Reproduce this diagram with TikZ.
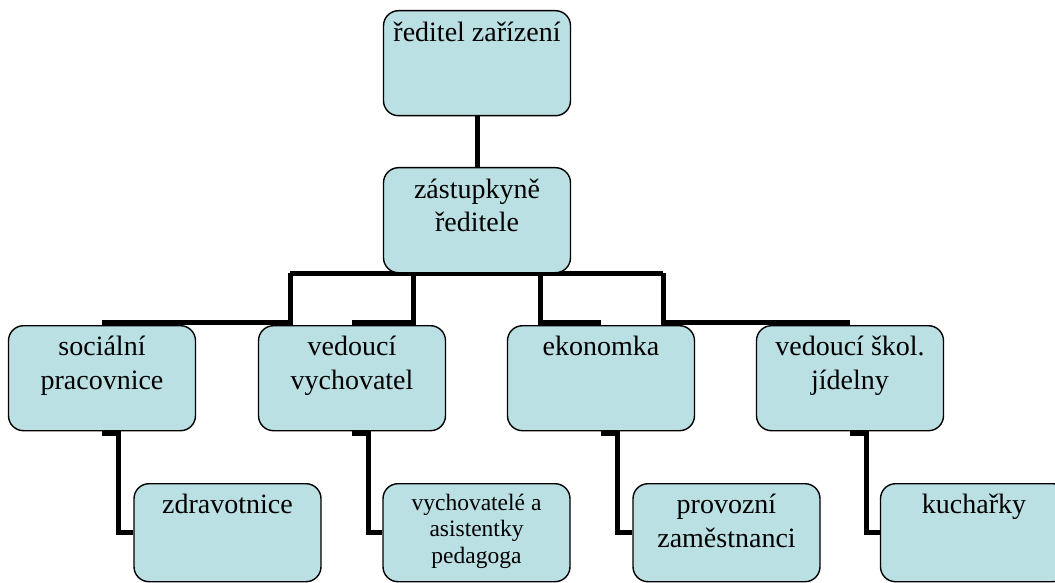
\documentclass[tikz,border=0pt]{standalone}
\usepackage{fontspec}
\setmainfont{Liberation Serif}
\usetikzlibrary{backgrounds}
\definecolor{boxfill}{RGB}{187,224,227}
\begin{document}
\begin{tikzpicture}[x=1pt,y=-1pt,
  orgbox/.style={draw=black, line width=1.4pt, fill=boxfill, rounded corners=15pt,
    minimum width=187pt, minimum height=105pt, inner sep=0pt, anchor=north},
  lowbox/.style={orgbox, minimum height=98pt},
  txt/.style={anchor=base, inner sep=0pt, font=\rmfamily\fontsize{28}{33.5}\selectfont},
  smalltxt/.style={anchor=base, inner sep=0pt, font=\rmfamily\fontsize{23.5}{26.5}\selectfont},
  conn/.style={line width=5pt, line join=miter, black}]
\useasboundingbox (0,0) rectangle (1055,583);
\clip (0,0) rectangle (1055,583);

% boxes
\node[orgbox] (dir) at (477,10) {};
\node[orgbox] (zast) at (477,167) {};
\node[orgbox] (soc) at (102,325) {};
\node[orgbox] (ved) at (352,325) {};
\node[orgbox] (eko) at (601,325) {};
\node[orgbox] (sko) at (850,325) {};
\node[lowbox] (zdr) at (227.5,483) {};
\node[lowbox] (vych) at (476.5,483) {};
\node[lowbox] (prov) at (726.5,483) {};
\node[lowbox] (kuch) at (974,483) {};

% texts
\node[txt] (tdir) at ([yshift=-31.5pt]dir.north) {\parbox[t]{185pt}{\centering ředitel zařízení}};
\node[txt] (tzast) at ([yshift=-31pt]zast.north) {\parbox[t]{185pt}{\centering zástupkyně\\ředitele}};
\node[txt] (tsoc) at ([yshift=-30.5pt]soc.north) {\parbox[t]{185pt}{\centering sociální\\pracovnice}};
\node[txt] (tved) at ([yshift=-30.5pt]ved.north) {\parbox[t]{185pt}{\centering vedoucí\\vychovatel}};
\node[txt] (teko) at ([yshift=-30.5pt]eko.north) {\parbox[t]{185pt}{\centering ekonomka}};
\node[txt] (tsko) at ([yshift=-30.5pt]sko.north) {\parbox[t]{185pt}{\centering vedoucí škol.\\jídelny}};
\node[txt] (tzdr) at ([yshift=-30.5pt]zdr.north) {\parbox[t]{185pt}{\centering zdravotnice}};
\node[smalltxt] (tvych) at ([yshift=-27pt]vych.north) {\parbox[t]{185pt}{\centering vychovatelé a\\asistentky\\pedagoga}};
\node[txt] (tprov) at ([yshift=-30.5pt]prov.north) {\parbox[t]{185pt}{\centering provozní\\zaměstnanci}};
\node[txt] (tkuch) at ([yshift=-30.5pt]kuch.north) {\parbox[t]{185pt}{\centering kuchařky}};

% connectors
\coordinate (bA) at (290,273);
\coordinate (bB) at (413,273);
\coordinate (bC) at (540,273);
\coordinate (bD) at (663,273);
\begin{scope}[on background layer]
  \draw[conn] (dir.south) -- (zast.north);
  \draw[conn] (zast.south) -- (zast.south |- bA);
  \draw[conn] (bA) -- (bD);
  \draw[conn] (bA) |- ([yshift=2.5pt]soc.north);
  \draw[conn] (bB) |- ([yshift=2.5pt]ved.north);
  \draw[conn] (bC) |- ([yshift=2.5pt]eko.north);
  \draw[conn] (bD) |- ([yshift=2.5pt]sko.north);
  \draw[conn] ([yshift=-2.5pt]soc.south) -- ++(16,0) |- (zdr.west);
  \draw[conn] ([yshift=-2.5pt]ved.south) -- ++(16,0) |- (vych.west);
  \draw[conn] ([yshift=-2.5pt]eko.south) -- ++(16,0) |- (prov.west);
  \draw[conn] ([yshift=-2.5pt]sko.south) -- ++(16,0) |- (kuch.west);
\end{scope}
\end{tikzpicture}
\end{document}
